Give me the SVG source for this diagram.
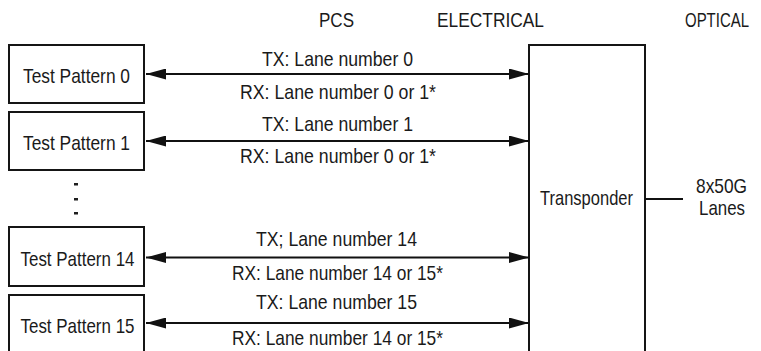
<svg xmlns="http://www.w3.org/2000/svg" width="761" height="351" viewBox="0 0 761 351">
<style>
  text { font-family: "Liberation Sans", Arial, sans-serif; font-size: 21px; fill: #1a1a1a; text-anchor: middle; }
  .hdr { font-size: 20px; }
  .box { fill: #ffffff; stroke: #151515; stroke-width: 2; }
  .conn { stroke: #111111; stroke-width: 2; fill: none; }
  .dot { fill: #1e1e1e; }
</style>
<defs>
  <marker id="arrow" viewBox="0 0 20 11" refX="20" refY="5.5" markerWidth="20" markerHeight="11" markerUnits="userSpaceOnUse" orient="auto-start-reverse">
    <path d="M0,0 L20,5.5 L0,11 Z" fill="#111111"/>
  </marker>
</defs>
<rect width="761" height="351" fill="#ffffff"/>

<g id="headers">
  <text class="hdr" x="336.5" y="26.5" textLength="35" lengthAdjust="spacingAndGlyphs">PCS</text>
  <text class="hdr" x="490.5" y="26.5" textLength="107" lengthAdjust="spacingAndGlyphs">ELECTRICAL</text>
  <text class="hdr" x="749" y="26.5" textLength="64" lengthAdjust="spacingAndGlyphs" style="text-anchor:end">OPTICAL</text>
</g>

<g id="tp0">
  <rect class="box" x="9" y="45" width="135" height="58"/>
  <text x="76.5" y="82.5" textLength="107" lengthAdjust="spacingAndGlyphs">Test Pattern 0</text>
</g>
<g id="tp1">
  <rect class="box" x="9" y="112" width="135" height="58"/>
  <text x="76.5" y="149.5" textLength="107" lengthAdjust="spacingAndGlyphs">Test Pattern 1</text>
</g>
<g id="ellipsis">
  <rect class="dot" x="74" y="183" width="4" height="2.5"/>
  <rect class="dot" x="74" y="198" width="4" height="2.5"/>
  <rect class="dot" x="74" y="212" width="4" height="2.5"/>
</g>
<g id="tp14">
  <rect class="box" x="9" y="227" width="135" height="59"/>
  <text x="77.5" y="265.5" textLength="114" lengthAdjust="spacingAndGlyphs">Test Pattern 14</text>
</g>
<g id="tp15">
  <rect class="box" x="9" y="295" width="135" height="60"/>
  <text x="77.5" y="332.5" textLength="114" lengthAdjust="spacingAndGlyphs">Test Pattern 15</text>
</g>

<g id="transponder">
  <rect class="box" x="529" y="45" width="116" height="312"/>
  <text x="586.5" y="205" textLength="93" lengthAdjust="spacingAndGlyphs">Transponder</text>
</g>

<g id="optical-lanes">
  <text x="721.5" y="193" textLength="51" lengthAdjust="spacingAndGlyphs">8x50G</text>
  <text x="722" y="214.5" textLength="46" lengthAdjust="spacingAndGlyphs">Lanes</text>
</g>

<g id="connectors">
  <line class="conn" x1="146" y1="74" x2="529" y2="74" marker-start="url(#arrow)" marker-end="url(#arrow)"/>
  <line class="conn" x1="146" y1="141" x2="529" y2="141" marker-start="url(#arrow)" marker-end="url(#arrow)"/>
  <line class="conn" x1="146" y1="257.5" x2="529" y2="257.5" marker-start="url(#arrow)" marker-end="url(#arrow)"/>
  <line class="conn" x1="146" y1="323" x2="529" y2="323" marker-start="url(#arrow)" marker-end="url(#arrow)"/>
  <line class="conn" x1="645" y1="199" x2="683" y2="199"/>
</g>

<g id="connector-labels">
  <text x="337.5" y="65.5" textLength="151" lengthAdjust="spacingAndGlyphs">TX: Lane number 0</text>
  <text x="338" y="98.5" textLength="196" lengthAdjust="spacingAndGlyphs">RX: Lane number 0 or 1*</text>
  <text x="337.5" y="131" textLength="151" lengthAdjust="spacingAndGlyphs">TX: Lane number 1</text>
  <text x="338" y="163" textLength="196" lengthAdjust="spacingAndGlyphs">RX: Lane number 0 or 1*</text>
  <text x="336.5" y="245.5" textLength="161" lengthAdjust="spacingAndGlyphs">TX; Lane number 14</text>
  <text x="337.5" y="280" textLength="211" lengthAdjust="spacingAndGlyphs">RX: Lane number 14 or 15*</text>
  <text x="336.5" y="309" textLength="161" lengthAdjust="spacingAndGlyphs">TX: Lane number 15</text>
  <text x="337.5" y="344.5" textLength="211" lengthAdjust="spacingAndGlyphs">RX: Lane number 14 or 15*</text>
</g>
</svg>
